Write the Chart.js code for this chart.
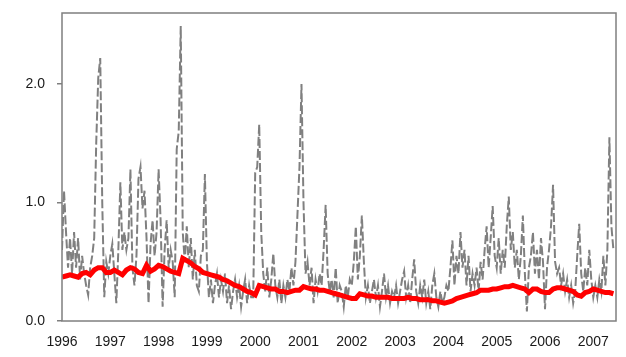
<!DOCTYPE html>
<html>
<head>
<meta charset="utf-8">
<script src="https://cdn.jsdelivr.net/npm/chart.js@4.4.1/dist/chart.umd.min.js"></script>
<style>
  html, body { margin: 0; padding: 0; background: #fff; }
  #wrap { width: 626px; height: 357px; }
</style>
</head>
<body>
<div id="wrap"><canvas id="grafico"></canvas></div>
<script>
// Série diária (cinza tracejada): um valor a cada meio mês, a partir de 1996
const inicioCinza = 1996;
const passoCinza = 1 / 24;
const valoresCinza = [
  // 1996
  0.6, 1.1, 0.75, 0.45, 0.7, 0.4, 0.75, 0.45, 0.7, 0.35, 0.55, 0.4,
  0.3, 0.22, 0.45, 0.55, 0.7, 1.5, 2.05, 2.22, 1.0, 0.2, 0.5, 0.4,
  // 1997
  0.55, 0.65, 0.4, 0.15, 0.6, 1.17, 0.6, 0.75, 0.6, 0.7, 1.28, 0.45,
  0.3, 0.55, 1.2, 1.3, 0.95, 1.1, 0.7, 0.15, 0.65, 0.85, 0.55, 0.75,
  // 1998
  1.28, 0.85, 0.12, 0.6, 0.85, 0.45, 0.6, 0.5, 0.2, 1.45, 1.6, 2.49,
  0.75, 0.5, 0.8, 0.45, 0.7, 0.35, 0.6, 0.3, 0.25, 0.55, 0.6, 1.24,
  // 1999
  0.5, 0.2, 0.35, 0.15, 0.3, 0.4, 0.2, 0.35, 0.25, 0.4, 0.15, 0.3,
  0.1, 0.25, 0.35, 0.2, 0.3, 0.12, 0.25, 0.35, 0.15, 0.3, 0.2, 0.2,
  // 2000
  1.25, 1.3, 1.66, 0.75, 0.4, 0.25, 0.45, 0.2, 0.35, 0.57, 0.3, 0.2,
  0.35, 0.15, 0.3, 0.2, 0.35, 0.25, 0.45, 0.3, 0.5, 0.9, 1.3, 2.0,
  // 2001
  1.0, 0.4, 0.5, 0.3, 0.45, 0.15, 0.35, 0.25, 0.4, 0.3, 0.6, 0.98,
  0.4, 0.25, 0.35, 0.2, 0.45, 0.15, 0.3, 0.25, 0.12, 0.3, 0.2, 0.35,
  // 2002
  0.3, 0.5, 0.8, 0.35, 0.55, 0.89, 0.5, 0.2, 0.3, 0.15, 0.25, 0.35,
  0.2, 0.3, 0.12, 0.25, 0.4, 0.2, 0.3, 0.15, 0.25, 0.2, 0.3, 0.15,
  // 2003
  0.25, 0.35, 0.42, 0.2, 0.3, 0.15, 0.35, 0.52, 0.25, 0.15, 0.3, 0.2,
  0.35, 0.15, 0.25, 0.1, 0.3, 0.4, 0.2, 0.12, 0.25, 0.15, 0.2, 0.3,
  // 2004
  0.25, 0.45, 0.68, 0.3, 0.55, 0.4, 0.75, 0.45, 0.6, 0.3, 0.55, 0.25,
  0.4, 0.3, 0.45, 0.25, 0.5, 0.35, 0.6, 0.8, 0.45, 0.7, 0.97, 0.55,
  // 2005
  0.45, 0.7, 0.4, 0.6, 0.45, 0.8, 1.05, 0.6, 0.75, 0.45, 0.6, 0.35,
  0.55, 0.89, 0.4, 0.08, 0.45, 0.55, 0.75, 0.4, 0.6, 0.35, 0.7, 0.5,
  // 2006
  0.1, 0.45, 0.6, 0.8, 1.15, 0.5, 0.4, 0.45, 0.3, 0.4, 0.25, 0.35,
  0.2, 0.3, 0.15, 0.25, 0.55, 0.82, 0.4, 0.25, 0.45, 0.3, 0.6, 0.35,
  // 2007
  0.2, 0.3, 0.2, 0.35, 0.25, 0.55, 0.3, 0.6, 1.55, 0.8, 0.6
];

// Média móvel (vermelha): um valor por mês
const inicioVermelha = 1996;
const passoVermelha = 1 / 12;
const valoresVermelha = [
  0.37, 0.38, 0.39, 0.38, 0.37, 0.40, 0.41, 0.39, 0.43, 0.45, 0.45, 0.41,
  0.41, 0.43, 0.41, 0.39, 0.43, 0.45, 0.44, 0.41, 0.40, 0.47, 0.42, 0.44,
  0.47, 0.46, 0.44, 0.42, 0.41, 0.40, 0.53, 0.51, 0.49, 0.46, 0.44, 0.41,
  0.40, 0.39, 0.38, 0.37, 0.35, 0.34, 0.32, 0.30, 0.29, 0.27, 0.25, 0.24,
  0.22, 0.30, 0.29, 0.28, 0.27, 0.27, 0.25, 0.25, 0.24, 0.25, 0.26, 0.26,
  0.29, 0.28, 0.27, 0.27, 0.26, 0.26, 0.25, 0.24, 0.23, 0.22, 0.21, 0.20,
  0.19, 0.19, 0.23, 0.22, 0.21, 0.21, 0.20, 0.20, 0.20, 0.20, 0.19, 0.19,
  0.19, 0.19, 0.20, 0.19, 0.19, 0.18, 0.18, 0.18, 0.17, 0.17, 0.16, 0.15,
  0.16, 0.17, 0.19, 0.20, 0.21, 0.22, 0.23, 0.24, 0.26, 0.26, 0.26, 0.27,
  0.27, 0.28, 0.29, 0.29, 0.30, 0.29, 0.28, 0.27, 0.24, 0.27, 0.27, 0.25,
  0.24, 0.24, 0.27, 0.28, 0.28, 0.27, 0.26, 0.25, 0.22, 0.21, 0.24, 0.25,
  0.27, 0.26, 0.25, 0.24, 0.24, 0.23
];

// Rótulos dos eixos
const anos = [1996, 1997, 1998, 1999, 2000, 2001, 2002, 2003, 2004, 2005, 2006, 2007];
const ticksY = [0, 1, 2];
const xMin = 1996;
const xMax = 2007.47;
const yMax = 2.6;

const pontosCinza = valoresCinza.map((v, i) => ({ x: inicioCinza + i * passoCinza, y: v }));
const pontosVermelha = valoresVermelha.map((v, i) => ({ x: inicioVermelha + i * passoVermelha, y: v }));

// Moldura em volta da área do gráfico
const moldura = {
  id: 'moldura',
  afterDraw(chart) {
    const { ctx, chartArea: a } = chart;
    ctx.save();
    ctx.strokeStyle = '#7f7f7f';
    ctx.lineWidth = 1.5;
    ctx.strokeRect(a.left, a.top, a.right - a.left, a.bottom - a.top);
    ctx.restore();
  }
};

const fonte = { family: '"Liberation Sans", Arial, sans-serif', size: 14 };

new Chart(document.getElementById('grafico').getContext('2d'), {
  type: 'line',
  data: {
    datasets: [
      {
        data: pontosVermelha,
        borderColor: '#ff0000',
        borderWidth: 5,
        pointRadius: 0,
        tension: 0,
        order: 0
      },
      {
        data: pontosCinza,
        borderColor: '#808080',
        borderWidth: 2,
        borderDash: [9, 3],
        pointRadius: 0,
        tension: 0,
        order: 1
      }
    ]
  },
  options: {
    responsive: true,
    maintainAspectRatio: false,
    animation: false,
    layout: { padding: { top: 13, right: 10, left: 0, bottom: 0 } },
    plugins: { legend: { display: false }, tooltip: { enabled: false } },
    scales: {
      x: {
        type: 'linear',
        min: xMin,
        max: xMax,
        afterBuildTicks(axis) { axis.ticks = anos.map(v => ({ value: v })); },
        afterFit(axis) {
          axis.height = 36;
          axis.paddingLeft = 0;
          axis.paddingRight = 0;
        },
        grid: { display: false, drawTicks: false },
        border: { display: false },
        ticks: {
          color: '#1a1a1a',
          font: fonte,
          padding: 13,
          maxRotation: 0,
          autoSkip: false,
          callback: v => String(v)
        }
      },
      y: {
        min: 0,
        max: yMax,
        afterBuildTicks(axis) { axis.ticks = ticksY.map(v => ({ value: v })); },
        afterFit(axis) {
          axis.width = 62;
          axis.paddingTop = 0;
          axis.paddingBottom = 0;
        },
        grid: {
          drawOnChartArea: false,
          drawTicks: true,
          tickLength: 5,
          color: '#7f7f7f',
          lineWidth: 1.5
        },
        border: { display: false },
        ticks: {
          color: '#1a1a1a',
          font: fonte,
          padding: 12,
          callback: v => v.toFixed(1)
        }
      }
    }
  },
  plugins: [moldura]
});
</script>
</body>
</html>
